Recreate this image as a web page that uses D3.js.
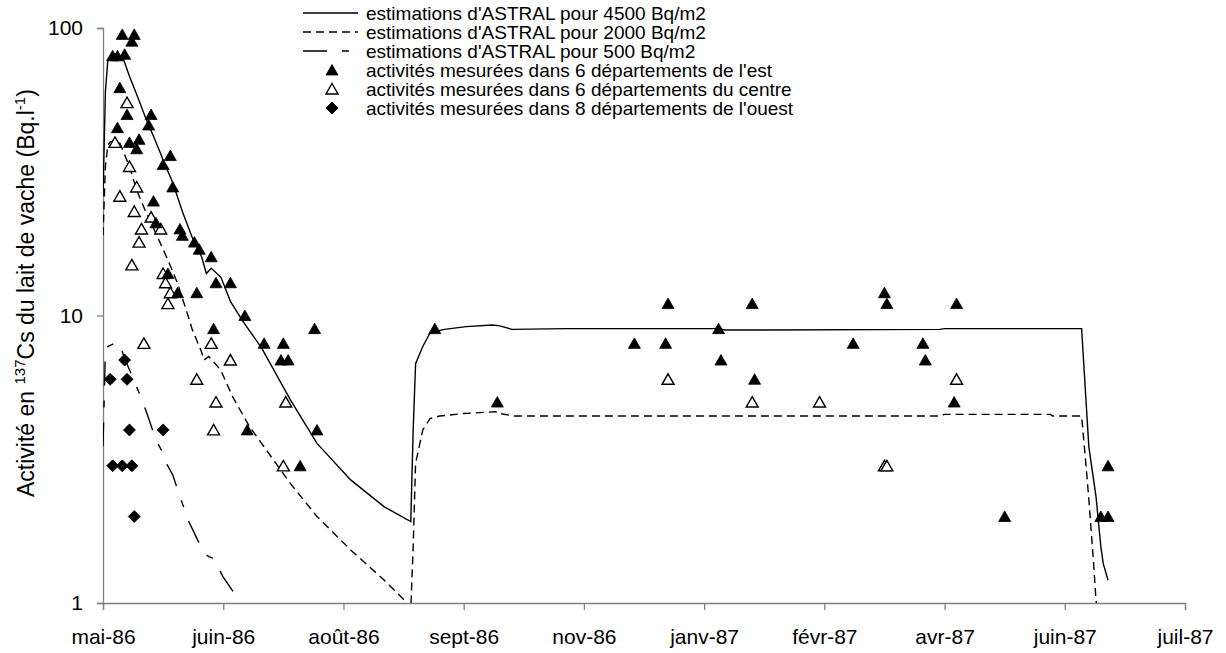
<!DOCTYPE html>
<html>
<head>
<meta charset="utf-8">
<script src="https://cdn.jsdelivr.net/npm/d3@7"></script>
<style>
  body { margin: 0; background: #fff; }
  svg text { font-family: Arial, "Liberation Sans", sans-serif; fill: #000; }
</style>
</head>
<body>
<svg id="chart" width="1226" height="653"></svg>
<script>
// x axis ticks (Excel date axis, every 50 days from 1 May 1986)
const tickDates = ["1986-05-01", "1986-06-20", "1986-08-09", "1986-09-28", "1986-11-17",
  "1987-01-06", "1987-02-25", "1987-04-16", "1987-06-05", "1987-07-25"];
const tickLabels = ["mai-86", "juin-86", "août-86", "sept-86", "nov-86",
  "janv-87", "févr-87", "avr-87", "juin-87", "juil-87"];
const yTicks = [1, 10, 100];

// ASTRAL estimates [date, Bq/l]
const astral4500 = [
  ["1986-05-01", 26], ["1986-05-02", 60], ["1986-05-03", 77], ["1986-05-05", 79], ["1986-05-09", 80],
  ["1986-05-12", 68], ["1986-05-16", 56], ["1986-05-19", 48], ["1986-05-22", 42], ["1986-05-25", 36.5],
  ["1986-05-26", 34.7], ["1986-05-30", 29], ["1986-06-03", 23], ["1986-06-07", 18.8], ["1986-06-11", 16],
  ["1986-06-13", 14], ["1986-06-15", 14.6], ["1986-06-19", 13.6], ["1986-06-23", 11.2], ["1986-06-28", 9.6],
  ["1986-07-06", 7.7], ["1986-07-18", 5.08], ["1986-07-29", 3.59], ["1986-08-12", 2.68], ["1986-08-26", 2.16],
  ["1986-09-06", 1.92], ["1986-09-07", 4.0], ["1986-09-08", 6.8], ["1986-09-11", 7.8], ["1986-09-14", 8.7],
  ["1986-09-20", 8.95], ["1986-09-29", 9.15], ["1986-10-10", 9.27], ["1986-10-13", 9.2], ["1986-10-18", 8.95],
  ["1986-11-10", 9.0], ["1987-01-11", 9.0], ["1987-01-15", 8.9], ["1987-04-14", 8.95], ["1987-04-16", 9.0],
  ["1987-06-12", 9.0], ["1987-06-15", 3.5], ["1987-06-18", 2.34], ["1987-06-20", 1.57], ["1987-06-21", 1.37],
  ["1987-06-23", 1.2]
];
const astral2000 = [
  ["1986-05-01", 19], ["1986-05-02", 33], ["1986-05-03", 39], ["1986-05-04", 40.2], ["1986-05-06", 40.5],
  ["1986-05-08", 39.8], ["1986-05-12", 33], ["1986-05-15", 27.3], ["1986-05-19", 22.7], ["1986-05-23", 19.3],
  ["1986-05-28", 15.6], ["1986-06-01", 12.95], ["1986-06-05", 10.2], ["1986-06-07", 9.0], ["1986-06-11", 7.46],
  ["1986-06-12", 7.0], ["1986-06-14", 7.2], ["1986-06-19", 6.45], ["1986-06-24", 5.2], ["1986-07-01", 4.1],
  ["1986-07-08", 3.4], ["1986-07-18", 2.6], ["1986-07-29", 2.0], ["1986-08-12", 1.53], ["1986-08-26", 1.2],
  ["1986-09-04", 1.01], ["1986-09-06", 0.95], ["1986-09-07", 1.57], ["1986-09-08", 3.06], ["1986-09-11", 4.0],
  ["1986-09-14", 4.38], ["1986-09-18", 4.47], ["1986-09-28", 4.56], ["1986-10-12", 4.63], ["1986-10-13", 4.56],
  ["1986-10-19", 4.47], ["1987-04-14", 4.47], ["1987-04-16", 4.53], ["1987-05-30", 4.53], ["1987-05-31", 4.47],
  ["1987-06-12", 4.47], ["1987-06-14", 2.9], ["1987-06-15", 2.3], ["1987-06-17", 1.37], ["1987-06-18", 1.02],
  ["1987-06-19", 0.9]
];
const astral500 = [
  ["1986-05-01", 3.5], ["1986-05-02", 7.6], ["1986-05-03", 7.8], ["1986-05-07", 8.1], ["1986-05-08", 7.9],
  ["1986-05-10", 7.1], ["1986-05-14", 5.9], ["1986-05-17", 5.15], ["1986-05-18", 4.88], ["1986-05-20", 4.38],
  ["1986-05-23", 3.69], ["1986-05-26", 3.32], ["1986-05-27", 3.1], ["1986-05-30", 2.79], ["1986-06-02", 2.34],
  ["1986-06-04", 2.11], ["1986-06-05", 1.97], ["1986-06-08", 1.75], ["1986-06-12", 1.49], ["1986-06-14", 1.45],
  ["1986-06-16", 1.43], ["1986-06-20", 1.23], ["1986-06-25", 1.07], ["1986-06-27", 1.0], ["1986-06-28", 0.97]
];

// measured activities [date, Bq/l]
const mesEst = [
  ["1986-05-05", 80], ["1986-05-07", 80], ["1986-05-10", 81], ["1986-05-09", 95], ["1986-05-14", 95],
  ["1986-05-13", 90], ["1986-05-08", 62], ["1986-05-11", 50], ["1986-05-21", 50], ["1986-05-20", 46],
  ["1986-05-07", 45], ["1986-05-12", 40], ["1986-05-16", 41], ["1986-05-15", 38], ["1986-05-29", 36],
  ["1986-05-26", 33.5], ["1986-05-30", 28], ["1986-05-22", 25], ["1986-05-23", 21], ["1986-06-02", 20],
  ["1986-06-03", 19], ["1986-06-08", 18], ["1986-06-10", 17], ["1986-06-15", 16], ["1986-05-28", 14],
  ["1986-06-17", 13], ["1986-06-23", 13], ["1986-06-01", 12], ["1986-06-09", 12], ["1986-06-29", 10],
  ["1986-06-16", 9], ["1986-07-28", 9], ["1986-07-07", 8], ["1986-07-15", 8], ["1986-07-14", 7],
  ["1986-07-17", 7], ["1986-06-30", 4], ["1986-07-29", 4], ["1986-07-22", 3],
  ["1986-09-16", 9], ["1986-10-12", 5], ["1986-12-08", 8], ["1986-12-21", 8], ["1986-12-22", 11],
  ["1987-01-12", 9], ["1987-01-13", 7], ["1987-01-26", 11], ["1987-01-27", 6], ["1987-03-09", 8],
  ["1987-03-22", 12], ["1987-03-23", 11], ["1987-04-07", 8], ["1987-04-08", 7], ["1987-04-21", 11],
  ["1987-04-20", 5], ["1987-05-11", 2], ["1987-06-23", 3], ["1987-06-20", 2], ["1987-06-23", 2]
];
const mesCentre = [
  ["1986-05-06", 40], ["1986-05-08", 26], ["1986-05-11", 55], ["1986-05-12", 33], ["1986-05-13", 15],
  ["1986-05-14", 23], ["1986-05-15", 28], ["1986-05-16", 18], ["1986-05-17", 20], ["1986-05-18", 8],
  ["1986-05-21", 22], ["1986-05-25", 20], ["1986-05-26", 14], ["1986-05-27", 13], ["1986-05-28", 11],
  ["1986-05-29", 12], ["1986-06-09", 6], ["1986-06-15", 8], ["1986-06-17", 5], ["1986-06-16", 4],
  ["1986-06-23", 7], ["1986-07-15", 3], ["1986-07-16", 5],
  ["1986-12-22", 6], ["1987-01-26", 5], ["1987-02-23", 5], ["1987-03-22", 3], ["1987-03-23", 3],
  ["1987-04-21", 6]
];
const mesOuest = [
  ["1986-05-04", 6], ["1986-05-05", 3], ["1986-05-09", 3], ["1986-05-10", 7], ["1986-05-11", 6],
  ["1986-05-12", 4], ["1986-05-13", 3], ["1986-05-14", 2], ["1986-05-26", 4]
];

const legendLabels = [
  "estimations d'ASTRAL pour 4500 Bq/m2",
  "estimations d'ASTRAL pour 2000 Bq/m2",
  "estimations d'ASTRAL pour 500 Bq/m2",
  "activités mesurées dans 6 départements de l'est",
  "activités mesurées dans 6 départements du centre",
  "activités mesurées dans 8 départements de l'ouest"
];

const parse = d3.utcParse("%Y-%m-%d");
const svg = d3.select("#chart");

const x = d3.scaleUtc()
  .domain([parse(tickDates[0]), parse(tickDates[tickDates.length - 1])])
  .range([103, 1185]);
const y = d3.scaleLog().domain([1, 100]).range([603, 28]);

const triangle = "M0,-5.5L6,5L-6,5Z";
const diamond = "M0,-6L6,0L0,6L-6,0Z";
const dashes = { solid: null, short: "8,5", long: "24,15,7,15" };

svg.append("defs").append("clipPath").attr("id", "plot")
  .append("rect").attr("x", 103).attr("y", 0).attr("width", 1082).attr("height", 603);

// axes
const yAxis = svg.append("g")
  .attr("transform", "translate(103,0)")
  .call(d3.axisLeft(y).tickValues(yTicks).tickFormat(d3.format("d")).tickSize(6).tickPadding(14));
const xAxis = svg.append("g")
  .attr("transform", "translate(0,603)")
  .call(d3.axisBottom(x).tickValues(tickDates.map(parse))
    .tickFormat((d, i) => tickLabels[i]).tickSize(7).tickPadding(19));
[yAxis, xAxis].forEach(g => {
  g.select(".domain").attr("stroke", "#808080").attr("stroke-width", 1.3);
  g.selectAll(".tick line").attr("stroke", "#808080").attr("stroke-width", 1.3);
  g.selectAll("text").attr("font-size", 21).attr("fill", "#000")
    .style("font-family", "Arial, 'Liberation Sans', sans-serif");
});

// y title
const yt = svg.append("text")
  .attr("transform", "translate(34,497) rotate(-90)")
  .attr("text-anchor", "start")
  .attr("font-size", 23);
yt.append("tspan").text("Activité en ");
yt.append("tspan").attr("font-size", 15).attr("dy", -9).text("137");
yt.append("tspan").attr("dy", 9).text("Cs du lait de vache (Bq.l");
yt.append("tspan").attr("font-size", 15).attr("dy", -9).text("-1");
yt.append("tspan").attr("dy", 9).text(")");

// estimate lines
const line = d3.line()
  .x(d => x(parse(d[0])))
  .y(d => y(d[1]));
const plot = svg.append("g").attr("clip-path", "url(#plot)");
[[astral4500, "solid"], [astral2000, "short"], [astral500, "long"]].forEach(([data, st]) => {
  plot.append("path")
    .datum(data)
    .attr("d", line)
    .attr("fill", "none")
    .attr("stroke", "#000")
    .attr("stroke-width", 1.4)
    .attr("stroke-dasharray", dashes[st]);
});

// measured points
function drawPoints(data, shape, fill) {
  svg.append("g").selectAll("path")
    .data(data)
    .join("path")
    .attr("transform", d => `translate(${x(parse(d[0]))},${y(d[1])})`)
    .attr("d", shape)
    .attr("fill", fill)
    .attr("stroke", "#000")
    .attr("stroke-width", fill === "#fff" ? 1.4 : 0.8);
}
drawPoints(mesOuest, diamond, "#000");
drawPoints(mesCentre, triangle, "#fff");
drawPoints(mesEst, triangle, "#000");

// legend
const legend = svg.append("g");
const legendKeys = [
  { line: "solid" }, { line: "short" }, { line: "long" },
  { shape: triangle, fill: "#000" }, { shape: triangle, fill: "#fff" }, { shape: diamond, fill: "#000" }
];
legendLabels.forEach((lab, i) => {
  const cy = 13 + i * 19;
  const k = legendKeys[i];
  if (k.line) {
    legend.append("line")
      .attr("x1", 303).attr("x2", 358).attr("y1", cy).attr("y2", cy)
      .attr("stroke", "#000").attr("stroke-width", 1.4)
      .attr("stroke-dasharray", dashes[k.line]);
  } else {
    legend.append("path")
      .attr("transform", `translate(332,${cy})`)
      .attr("d", k.shape)
      .attr("fill", k.fill)
      .attr("stroke", "#000")
      .attr("stroke-width", k.fill === "#fff" ? 1.4 : 0.8);
  }
  legend.append("text")
    .attr("x", 366).attr("y", cy).attr("dy", "0.35em")
    .attr("font-size", 19)
    .text(lab);
});
</script>
</body>
</html>
